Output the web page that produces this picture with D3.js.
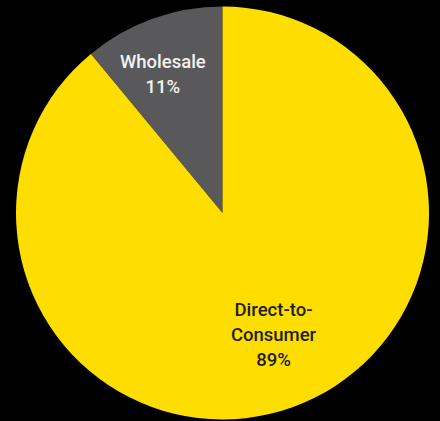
<!DOCTYPE html>
<html><head><meta charset="utf-8">
<script src="https://cdn.jsdelivr.net/npm/d3@7"></script>
<style>html,body{margin:0;padding:0;background:#000;}svg{display:block;}</style>
</head><body>
<script>
const categories = ["Wholesale", "Direct-to-Consumer"];
const values = [11, 89];
const labelLines = [["Wholesale", "11%"], ["Direct-to-", "Consumer", "89%"]];
const colors = ["#59595b", "#fedd00"];
const textColors = ["#f2f2f2", "#1e1e1e"];

const W = 440, H = 421;
const cx = 222.5, cy = 213, R = 206.5;
const svg = d3.select("body").append("svg").attr("width", W).attr("height", H)
  .style("background", "#000");
const g = svg.append("g").attr("transform", `translate(${cx},${cy})`);

const data = categories.map((c, i) => ({ c, v: values[i], i }));
// Wholesale slice sits counter-clockwise from 12 o'clock
const total = d3.sum(values);
const pie = d3.pie().value(d => d.v).sort(null)
  .startAngle(-2 * Math.PI * values[0] / total)
  .endAngle(2 * Math.PI - 2 * Math.PI * values[0] / total);
const arcs = pie(data);
const arc = d3.arc().innerRadius(0).outerRadius(R);

g.selectAll("path").data(arcs).join("path")
  .attr("d", arc).attr("fill", d => colors[d.data.i]);

const labelR = [0.732, 0.638];
const labelShift = [-0.06, -0.052]; // angular tweak (radians)
const lineH = 25;
arcs.forEach(a => {
  const i = a.data.i;
  const ang = (a.startAngle + a.endAngle) / 2 + labelShift[i];
  const r = R * labelR[i];
  const x = Math.sin(ang) * r, y = -Math.cos(ang) * r;
  const lines = labelLines[i];
  const t = g.append("text").attr("text-anchor", "middle")
    .attr("font-family", "Roboto, 'DejaVu Sans', sans-serif")
    .attr("font-weight", 500).attr("font-size", 18.5)
    .attr("fill", textColors[i]);
  lines.forEach((ln, k) => {
    t.append("tspan").attr("x", x)
      .attr("y", y + (k - (lines.length - 1) / 2) * lineH + 6.5)
      .text(ln);
  });
});
</script>
</body></html>
